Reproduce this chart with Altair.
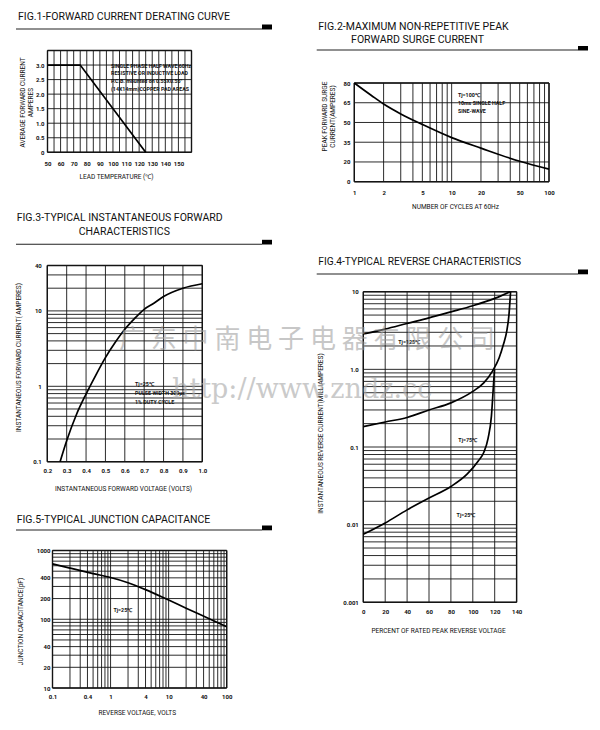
import altair as alt
import pandas as pd

PAGE_MARGIN = 8
W, H = 584, 714
FONT = "Roboto"

# ---------------- Fig.1 forward current derating ----------------
f1_temp = [50, 75, 125]
f1_amps = [3.0, 3.0, 0.0]
f1_xticks = [50, 60, 70, 80, 90, 100, 110, 120, 130, 140, 150]
f1_xlabels = ["50", "60", "70", "80", "90", "100", "110", "120", "130", "140", "150"]
f1_yticks = [0, 0.5, 1.0, 1.5, 2.0, 2.5, 3.0]
f1_ylabels = ["0", "0.5", "1.0", "1.5", "2.0", "2.5", "3.0"]
f1_xgrid = [50, 55, 60, 65, 70, 75, 80, 85, 90, 95, 100, 105, 110, 115, 120, 125, 130, 135, 140, 145, 150, 155, 160]
f1_ygrid = [0, 0.5, 1.0, 1.5, 2.0, 2.5, 3.0, 3.5]
f1_note_text = ["SINGLE PHASE HALF WAVE 60Hz", "RESISTIVE OR INDUCTIVE LOAD",
                'P.C.B. mounted on 0.55X0.55"', "(14X14mm)COPPER PAD AREAS"]
f1_note_x = [98.5, 98.5, 98.5, 98.5]
f1_note_y = [2.98, 2.72, 2.45, 2.19]

# ---------------- Fig.2 peak forward surge ----------------
f2_cycles = [1, 1.5, 2, 3, 5, 10, 20, 50, 100]
f2_amps = [80, 70.5, 64, 56.5, 48.5, 38.5, 30.5, 20.5, 14.5]
f2_xticks = [1, 2, 5, 10, 20, 50, 100]
f2_xlabels = ["1", "2", "5", "10", "20", "50", "100"]
f2_yticks = [5, 20, 35, 50, 65, 80]
f2_ylabels = ["0", "20", "35", "50", "65", "80"]
f2_xgrid = [1, 2, 3, 4, 5, 6, 7, 8, 9, 10, 20, 30, 40, 50, 60, 70, 80, 90, 100]
f2_ygrid = [5, 20, 35, 50, 65, 80]
f2_note_text = ["Tj=100\u2103", "10ms SINGLE HALF", "SINE-WAVE"]
f2_note_x = [11.6, 11.6, 11.6]
f2_note_y = [70.9, 65.0, 58.9]

# ---------------- Fig.3 forward characteristics ----------------
f3_volts = [0.266, 0.30, 0.35, 0.40, 0.45, 0.50, 0.55, 0.60, 0.65, 0.70, 0.75, 0.80, 0.90, 1.00]
f3_amps = [0.10, 0.19, 0.42, 0.79, 1.4, 2.4, 3.8, 5.7, 7.9, 10.5, 12.6, 15.5, 20.0, 22.9]
f3_xticks = [0.2, 0.3, 0.4, 0.5, 0.6, 0.7, 0.8, 0.9, 1.0]
f3_xlabels = ["0.2", "0.3", "0.4", "0.5", "0.6", "0.7", "0.8", "0.9", "1.0"]
f3_yticks = [0.1, 1, 10, 40]
f3_ylabels = ["0.1", "1", "10", "40"]
f3_xgrid = [0.2, 0.3, 0.4, 0.5, 0.6, 0.7, 0.8, 0.9, 1.0]
f3_ygrid = [0.1, 0.2, 0.3, 0.4, 0.5, 0.6, 0.7, 0.8, 0.9, 1, 2, 3, 4, 5, 6, 7, 8, 9, 10, 20, 30, 40]
f3_note_text = ["Tj=25\u2103", "PULSE WIDTH 300\u03bcs", "1% DUTY CYCLE"]
f3_note_x = [0.653, 0.653, 0.653]
f3_note_y = [1.07, 0.815, 0.625]

# ---------------- Fig.4 reverse characteristics ----------------
f4_t125_x = [0, 20, 40, 60, 80, 100, 120, 134]
f4_t125_y = [2.85, 3.3, 3.9, 4.6, 5.5, 6.6, 8.2, 10.0]
f4_t75_x = [0, 20, 40, 60, 80, 100, 110, 118, 124, 128, 131, 133, 134.5]
f4_t75_y = [0.183, 0.21, 0.24, 0.30, 0.37, 0.52, 0.67, 0.95, 1.4, 2.1, 3.1, 5.0, 10.0]
f4_t25_x = [0, 20, 40, 60, 80, 95, 105, 110, 114, 117, 118.8, 119.8]
f4_t25_y = [0.0075, 0.0105, 0.0155, 0.022, 0.031, 0.045, 0.066, 0.085, 0.13, 0.25, 0.6, 1.0]
f4_xticks = [0, 20, 40, 60, 80, 100, 120, 140]
f4_xlabels = ["0", "20", "40", "60", "80", "100", "120", "140"]
f4_yticks = [0.001, 0.01, 0.1, 1, 10]
f4_ylabels = ["0.001", "0.01", "0.1", "1.0", "10"]
f4_xgrid = [0, 20, 40, 60, 80, 100, 120, 140]
f4_ygrid = [0.001, 0.002, 0.003, 0.004, 0.005, 0.006, 0.007, 0.008, 0.009,
            0.01, 0.02, 0.03, 0.04, 0.05, 0.06, 0.07, 0.08, 0.09,
            0.1, 0.2, 0.3, 0.4, 0.5, 0.6, 0.7, 0.8, 0.9,
            1, 2, 3, 4, 5, 6, 7, 8, 9, 10]
f4_note_text = ["Tj=125\u2103", "Tj=75\u2103", "Tj=25\u2103"]
f4_note_x = [32, 86.8, 85.2]
f4_note_y = [2.27, 0.123, 0.0133]

# ---------------- Fig.5 junction capacitance ----------------
f5_volts = [0.1, 0.2, 0.5, 1, 2, 4, 10, 20, 50, 100]
f5_pf = [640, 555, 462, 405, 340, 270, 190, 145, 102, 78]
f5_xticks = [0.1, 0.4, 1, 4, 10, 40, 100]
f5_xlabels = ["0.1", "0.4", "1", "4", "10", "40", "100"]
f5_yticks = [10, 20, 40, 100, 200, 400, 1000]
f5_ylabels = ["10", "20", "40", "100", "200", "400", "1000"]
f5_xgrid = [0.1, 0.2, 0.3, 0.4, 0.5, 0.6, 0.7, 0.8, 0.9, 1, 2, 3, 4, 5, 6, 7, 8, 9,
            10, 20, 30, 40, 50, 60, 70, 80, 90, 100]
f5_ygrid = [10, 20, 30, 40, 50, 60, 70, 80, 90, 100, 200, 300, 400, 500, 600, 700, 800, 900, 1000]
f5_note_text = ["Tj=25\u2103"]
f5_note_x = [1.12]
f5_note_y = [136]


def label_expr(vals, labs):
    expr = "''"
    for v, s in reversed(list(zip(vals, labs))):
        expr = f"abs(datum.value - {v}) < {abs(v) * 1e-6 + 1e-9} ? '{s}' : ({expr})"
    return expr


def make_figure(frame, xtype, xdom, ytype, ydom, xgrid, ygrid,
                xticks, xlabels, yticks, ylabels, xlabpad, ylabpad,
                xtitle, xtitle_c, ytitle, ytitle_c, curves, interp, notes):
    L, R, T, B = [v - PAGE_MARGIN for v in frame]

    def sc(t, dom, rng):
        kw = dict(type=t, domain=dom, range=rng, nice=False)
        if t == "linear":
            kw["zero"] = False
        return alt.Scale(**kw)

    rows = [dict(x1=v, x2=v, y1=ydom[0], y2=ydom[1], w=0.9) for v in xgrid]
    rows += [dict(x1=xdom[0], x2=xdom[1], y1=v, y2=v, w=0.9) for v in ygrid]
    rows += [dict(x1=xdom[0], x2=xdom[0], y1=ydom[0], y2=ydom[1], w=1.4),
             dict(x1=xdom[1], x2=xdom[1], y1=ydom[0], y2=ydom[1], w=1.4),
             dict(x1=xdom[0], x2=xdom[1], y1=ydom[0], y2=ydom[0], w=1.4),
             dict(x1=xdom[0], x2=xdom[1], y1=ydom[1], y2=ydom[1], w=1.4)]
    grid_df = pd.DataFrame(rows)

    common = dict(domain=False, ticks=False, tickSize=0, grid=False,
                  labelFlush=False, labelOverlap=False, labelFont=FONT,
                  labelFontSize=6, labelFontWeight="bold", labelColor="#111",
                  titleFont=FONT, titleFontSize=6.5, titleFontWeight="normal",
                  titleColor="#111", titleAlign="center", titleBaseline="middle")
    xaxis = alt.Axis(orient="bottom", offset=B - H, values=xticks,
                     labelExpr=label_expr(xticks, xlabels),
                     labelPadding=xlabpad, labelBaseline="middle",
                     title=xtitle, titleX=xtitle_c[0] - PAGE_MARGIN,
                     titleY=xtitle_c[1] - PAGE_MARGIN - B, titleAngle=0, **common)
    yaxis = alt.Axis(orient="left", offset=-L, values=yticks,
                     labelExpr=label_expr(yticks, ylabels),
                     labelPadding=ylabpad, labelBaseline="middle", labelAlign="right",
                     title=ytitle, titleX=ytitle_c[0] - PAGE_MARGIN - L,
                     titleY=ytitle_c[1] - PAGE_MARGIN, titleAngle=270,
                     titleLineHeight=8, **common)

    grid = alt.Chart(grid_df).mark_rule(color="#141414").encode(
        x=alt.X("x1:Q", scale=sc(xtype, xdom, [L, R]), axis=xaxis),
        x2="x2:Q",
        y=alt.Y("y1:Q", scale=sc(ytype, ydom, [B, T]), axis=yaxis),
        y2="y2:Q",
        strokeWidth=alt.StrokeWidth("w:Q", scale=None, legend=None),
    )
    curve = alt.Chart(curves).mark_line(color="black", strokeWidth=1.7,
                                        interpolate=interp).encode(
        x=alt.X("x:Q", scale=sc(xtype, xdom, [L, R]), axis=None),
        y=alt.Y("y:Q", scale=sc(ytype, ydom, [B, T]), axis=None),
        detail="series:N",
    )
    note = alt.Chart(notes).mark_text(align="left", baseline="middle", font=FONT,
                                      fontSize=5.3, fontWeight="bold",
                                      color="#111").encode(
        x=alt.X("x:Q", scale=sc(xtype, xdom, [L, R]), axis=None),
        y=alt.Y("y:Q", scale=sc(ytype, ydom, [B, T]), axis=None),
        text="t:N",
    )
    return [grid, curve, note]


def series_df(pairs):
    rows = []
    for name, xs, ys in pairs:
        rows += [dict(series=name, x=a, y=b) for a, b in zip(xs, ys)]
    return pd.DataFrame(rows)


def notes_df(texts, xs, ys):
    return pd.DataFrame(dict(t=texts, x=xs, y=ys))


fig1 = make_figure((47.5, 191.5, 50.5, 152.3), "linear", [50, 160], "linear", [0, 3.5],
                   f1_xgrid, f1_ygrid, f1_xticks, f1_xlabels, f1_yticks, f1_ylabels, 11, 3.5,
                   "LEAD  TEMPERATURE (\u2103)", (116, 176),
                   ["AVERAGE FORWARD CURRENT", "AMPERES"], (22, 102),
                   series_df([("a", f1_temp, f1_amps)]), "linear",
                   notes_df(f1_note_text, f1_note_x, f1_note_y))

fig2 = make_figure((354.3, 549, 83, 181.7), "log", [1, 100], "linear", [5, 80],
                   f2_xgrid, f2_ygrid, f2_xticks, f2_xlabels, f2_yticks, f2_ylabels, 10.6, 4.3,
                   "NUMBER OF CYCLES AT 60Hz", (455, 206),
                   ["PEAK FORWARD SURGE", "CURRENT(AMPERES)"], (324, 116),
                   series_df([("a", f2_cycles, f2_amps)]), "monotone",
                   notes_df(f2_note_text, f2_note_x, f2_note_y))

fig3 = make_figure((47.3, 202.3, 265.5, 461.7), "linear", [0.2, 1.0], "log", [0.1, 40],
                   f3_xgrid, f3_ygrid, f3_xticks, f3_xlabels, f3_yticks, f3_ylabels, 9, 6,
                   "INSTANTANEOUS FORWARD VOLTAGE (VOLTS)", (123, 488.3),
                   "INSTANTANEOUS FORWARD CURRENT( AMPERES)", (18.5, 357),
                   series_df([("a", f3_volts, f3_amps)]), "monotone",
                   notes_df(f3_note_text, f3_note_x, f3_note_y))

fig4 = make_figure((363.3, 516.6, 291.7, 602.3), "linear", [0, 140], "log", [0.001, 10],
                   f4_xgrid, f4_ygrid, f4_xticks, f4_xlabels, f4_yticks, f4_ylabels, 9.4, 5,
                   "PERCENT OF RATED PEAK REVERSE VOLTAGE", (438, 630),
                   "INSTANTANEOUS REVERSE CURRENT(MILLIAMPERES)", (320, 433),
                   series_df([("t125", f4_t125_x, f4_t125_y),
                              ("t75", f4_t75_x, f4_t75_y),
                              ("t25", f4_t25_x, f4_t25_y)]), "monotone",
                   notes_df(f4_note_text, f4_note_x, f4_note_y))

fig5 = make_figure((52.5, 226.7, 550.5, 688), "log", [0.1, 100], "log", [10, 1000],
                   f5_xgrid, f5_ygrid, f5_xticks, f5_xlabels, f5_yticks, f5_ylabels, 8.7, 2.5,
                   "REVERSE VOLTAGE, VOLTS", (136.7, 712.3),
                   "JUNCTION CAPACITANCE(pF)", (20, 621),
                   series_df([("a", f5_volts, f5_pf)]), "monotone",
                   notes_df(f5_note_text, f5_note_x, f5_note_y))

# ---------------- decorations (figure headings, rules, watermark) ----------------
ONE = alt.Data(values=[{}])


def deco_text(text, x, y, align="left", size=10.5, font=FONT, color="#111",
              opacity=1.0, baseline="middle"):
    return alt.Chart(ONE).mark_text(text=text, align=align, baseline=baseline,
                                    font=font, fontSize=size, color=color,
                                    opacity=opacity).encode(
        x=alt.value(x - PAGE_MARGIN), y=alt.value(y - PAGE_MARGIN))


def deco_rule(x1, x2, y):
    return alt.Chart(ONE).mark_rule(color="#222", strokeWidth=1.1).encode(
        x=alt.value(x1 - PAGE_MARGIN), x2=alt.value(x2 - PAGE_MARGIN),
        y=alt.value(y - PAGE_MARGIN))


def deco_tab(x1, x2, y1, y2):
    return alt.Chart(ONE).mark_rect(color="black").encode(
        x=alt.value(x1 - PAGE_MARGIN), x2=alt.value(x2 - PAGE_MARGIN),
        y=alt.value(y1 - PAGE_MARGIN), y2=alt.value(y2 - PAGE_MARGIN))


headings = [
    deco_text("FIG.1-FORWARD CURRENT DERATING CURVE", 18, 16.7),
    deco_text("FIG.2-MAXIMUM NON-REPETITIVE PEAK", 318.3, 26.7),
    deco_text("FORWARD SURGE CURRENT", 417.5, 40, align="center"),
    deco_text("FIG.3-TYPICAL INSTANTANEOUS FORWARD", 16.7, 218.3),
    deco_text("CHARACTERISTICS", 124.3, 231.7, align="center"),
    deco_text("FIG.4-TYPICAL REVERSE CHARACTERISTICS", 318.3, 261.7, size=10.2),
    deco_text("FIG.5-TYPICAL JUNCTION CAPACITANCE", 16.7, 520),
]
rules = [deco_rule(16, 262, 29), deco_rule(316.7, 578, 50), deco_rule(16, 262, 244.3),
         deco_rule(316.7, 578, 274), deco_rule(16, 262, 530)]
tabs = [deco_tab(262, 272, 24.5, 29.5), deco_tab(578, 588, 46, 50.5),
        deco_tab(262, 272, 239.8, 244.5), deco_tab(578, 588, 269.5, 274.3),
        deco_tab(262, 272, 525.5, 530.3)]
watermark = [
    deco_text("\u5e7f \u4e1c \u4e2d \u5357 \u7535 \u5b50 \u7535 \u5668 \u6709 \u9650 \u516c \u53f8",
              307, 340, align="center", size=26, font="Noto Sans CJK SC",
              color="#9a9a9a", opacity=0.55),
    deco_text("http://www.zndz.cc", 172, 398, align="left", size=27, font="DejaVu Serif",
              color="#a8a8a8", opacity=0.6, baseline="alphabetic"),
]

chart = alt.layer(*fig1, *fig2, *fig3, *fig4, *fig5, *rules, *tabs, *headings, *watermark).resolve_scale(
    x="independent", y="independent").resolve_axis(
    x="independent", y="independent").properties(
    width=W, height=H, padding=0, background="white",
    autosize=alt.AutoSizeParams(type="none")).configure_view(stroke=None)

chart.save("out.html", embed_options={"renderer": "svg", "actions": False})
